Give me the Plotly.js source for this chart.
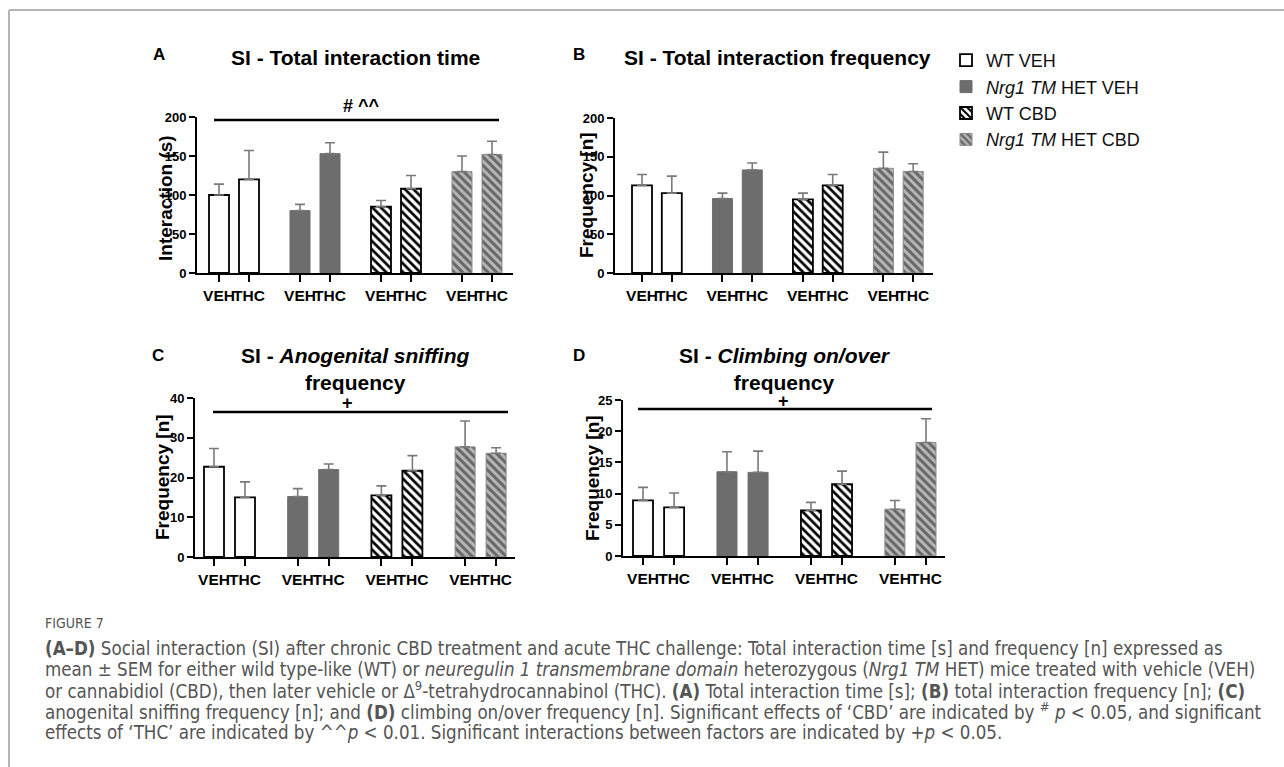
<!DOCTYPE html>
<html>
<head>
<meta charset="utf-8">
<script src="https://cdn.plot.ly/plotly-3.0.1.min.js"></script>
<style>
html,body{margin:0;padding:0;background:#fff;}
#chart{width:1284px;height:767px;}
</style>
</head>
<body>
<div id="chart"></div>
<script>
// ---------- data ----------
const groups = ["WT VEH", "<i>Nrg1 TM</i> HET VEH", "WT CBD", "<i>Nrg1 TM</i> HET CBD"];
const challenges = ["VEH", "THC"];

// Panel A: SI - total interaction time (s), order: [grp1 VEH, grp1 THC, grp2 VEH, ...]
const timeMean = [100, 120, 80, 153, 85, 108, 130, 152];
const timeSem  = [14, 37, 8, 14, 8, 17, 20, 17];
// Panel B: SI - total interaction frequency [n]
const freqMean = [113, 103, 96, 133, 95, 113, 135, 131];
const freqSem  = [14, 22, 7, 9, 8, 14, 21, 10];
// Panel C: anogenital sniffing frequency [n]
const sniffMean = [22.7, 15.0, 15.2, 22.0, 15.5, 21.7, 27.7, 26.1];
const sniffSem  = [4.6, 3.9, 2.0, 1.4, 2.4, 3.8, 6.5, 1.4];
// Panel D: climbing on/over frequency [n]
const climbMean = [8.9, 7.8, 13.5, 13.4, 7.3, 11.5, 7.5, 18.2];
const climbSem  = [2.1, 2.3, 3.2, 3.4, 1.3, 2.1, 1.4, 3.8];

const panelTitles = [
  "SI - Total interaction time",
  "SI - Total interaction frequency",
  "SI - <i>Anogenital sniffing</i><br>frequency",
  "SI - <i>Climbing on/over</i><br>frequency"
];
const panelLetters = ["A", "B", "C", "D"];
const yTitles = ["Interaction (s)", "Frequency [n]", "Frequency [n]", "Frequency [n]"];
const yMax = [200, 200, 40, 25];
const yStep = [50, 50, 10, 5];
const sigLabels = ["# ^^", "", "+", "+"];

// ---------- layout helpers ----------
const W = 1284, H = 767;
const px = x => x / W;
const py = y => 1 - y / H;
const GROUP_STEP = 2.7;

const FONT = "Liberation Sans, Arial, sans-serif";

const styles = [
  {color: "#ffffff", line: {color: "#000000", width: 1.8}},
  {color: "#6d6d6d", line: {color: "#6d6d6d", width: 1}},
  {color: "#ffffff", line: {color: "#000000", width: 1.8},
   pattern: {shape: "\\", fgcolor: "#000000", bgcolor: "#ffffff", size: 6, solidity: 0.45}},
  {color: "#b4b4b4", line: {color: "#8a8a8a", width: 1},
   pattern: {shape: "\\", fgcolor: "#666666", bgcolor: "#b8b8b8", size: 6, solidity: 0.5}}
];

// pixel geometry of each panel: [xLeft, xRight, yTop, yBottom, firstBarCenter, pxPerUnit]
const geom = [
  [197, 513, 117, 273, 219, 30.0],
  [615, 933, 118, 273, 642, 29.8],
  [195, 515, 398, 557, 214, 31.0],
  [623, 945, 400, 556, 643, 31.1]
];
const titlePos = [[355, 58], [777, 57], [355, 369], [785, 369]];
const letterPos = [[159, 55], [579, 55], [158, 355], [579, 355]];
const yTitlePos = [[165, 198], [586, 195], [162, 477], [592, 478]];
const sigLine = [[214, 499, 120], null, [213, 508, 412], [638, 932, 409]];
const sigText = [[362, 106], null, [347, 403], [783, 401]];

const panelData = [[timeMean, timeSem], [freqMean, freqSem], [sniffMean, sniffSem], [climbMean, climbSem]];

const traces = [];
const layout = {
  width: W, height: H,
  margin: {l: 0, r: 0, t: 0, b: 0},
  paper_bgcolor: "#ffffff", plot_bgcolor: "rgba(0,0,0,0)",
  font: {family: FONT, color: "#000"},
  barmode: "overlay",
  showlegend: true,
  legend: {
    x: px(946), y: py(42), xanchor: "left", yanchor: "top",
    font: {family: FONT, size: 18, color: "#111"},
    bgcolor: "rgba(0,0,0,0)", borderwidth: 0,
    tracegroupgap: 8, traceorder: "normal", itemclick: false
  },
  annotations: [],
  shapes: []
};

panelData.forEach((pd, p) => {
  const [means, sems] = pd;
  const [xl, xr, yt, yb, c0, ppu] = geom[p];
  const ax = p === 0 ? "" : String(p + 1);
  const xs = [], tickText = [];
  groups.forEach((g, gi) => {
    const x = challenges.map((c, ci) => gi * GROUP_STEP + ci);
    const y = challenges.map((c, ci) => means[gi * challenges.length + ci]);
    const e = challenges.map((c, ci) => sems[gi * challenges.length + ci]);
    x.forEach((v, i) => { xs.push(v); tickText.push(challenges[i]); });
    const st = styles[gi];
    const marker = {color: st.color, line: st.line};
    if (st.pattern) marker.pattern = st.pattern;
    traces.push({
      type: "bar", x: x, y: y, name: groups[gi],
      xaxis: "x" + ax, yaxis: "y" + ax,
      width: 20 / ppu,
      marker: marker,
      legendgroup: "g" + gi,
      showlegend: p === 0,
      error_y: {type: "data", symmetric: false, array: e, arrayminus: e.map(() => 0),
                color: "#7a7a7a", thickness: 1.6, width: 5},
      hoverinfo: "skip"
    });
  });
  layout["xaxis" + ax] = {
    domain: [px(xl), px(xr)],
    range: [(xl - c0) / ppu, (xr - c0) / ppu],
    anchor: "y" + ax,
    showline: true, linecolor: "#000", linewidth: 2,
    ticks: "outside", ticklen: 7, tickwidth: 2, tickcolor: "#000",
    tickmode: "array", tickvals: xs, ticktext: tickText, tickangle: 0,
    tickfont: {family: FONT, size: 15.5, color: "#000", weight: "bold"},
    showgrid: false, zeroline: false, fixedrange: true
  };
  layout["yaxis" + ax] = {
    domain: [py(yb), py(yt)],
    range: [0, yMax[p]],
    anchor: "x" + ax,
    showline: true, linecolor: "#000", linewidth: 2,
    ticks: "outside", ticklen: 6, tickwidth: 2, tickcolor: "#000",
    dtick: yStep[p], tick0: 0,
    tickfont: {family: FONT, size: 13, color: "#000", weight: "bold"},
    showgrid: false, zeroline: false, fixedrange: true
  };
  layout.annotations.push({
    xref: "paper", yref: "paper", x: px(titlePos[p][0]), y: py(titlePos[p][1]),
    xanchor: "center", yanchor: "middle", showarrow: false,
    text: "<b>" + panelTitles[p] + "</b>",
    font: {family: FONT, size: 21, color: "#000"}
  });
  layout.annotations.push({
    xref: "paper", yref: "paper", x: px(letterPos[p][0]), y: py(letterPos[p][1]),
    xanchor: "center", yanchor: "middle", showarrow: false,
    text: "<b>" + panelLetters[p] + "</b>",
    font: {family: FONT, size: 17, color: "#000"}
  });
  layout.annotations.push({
    xref: "paper", yref: "paper", x: px(yTitlePos[p][0]), y: py(yTitlePos[p][1]),
    xanchor: "center", yanchor: "middle", showarrow: false, textangle: -90,
    text: "<b>" + yTitles[p] + "</b>",
    font: {family: FONT, size: 19, color: "#000"}
  });
  if (sigLine[p]) {
    const [x0, x1, yy] = sigLine[p];
    layout.shapes.push({type: "line", xref: "paper", yref: "paper",
      x0: px(x0), x1: px(x1), y0: py(yy), y1: py(yy), line: {color: "#000", width: 2.5}});
    layout.annotations.push({
      xref: "paper", yref: "paper", x: px(sigText[p][0]), y: py(sigText[p][1]),
      xanchor: "center", yanchor: "middle", showarrow: false,
      text: "<b>" + sigLabels[p] + "</b>",
      font: {family: FONT, size: 18, color: "#000"}
    });
  }
});

// page border (gray rule at top and left)
layout.shapes.push({type: "line", xref: "paper", yref: "paper", x0: px(9), x1: px(9), y0: 0, y1: py(10),
  line: {color: "#b5b5b5", width: 2}});
layout.shapes.push({type: "line", xref: "paper", yref: "paper", x0: px(9), x1: 1, y0: py(10), y1: py(10),
  line: {color: "#b5b5b5", width: 2}});

// caption
const CAP_FONT = "DejaVu Sans Condensed, sans-serif";
const captionHead = "FIGURE 7";
const captionLines = [
  "<b>(A–D)</b> Social interaction (SI) after chronic CBD treatment and acute THC challenge: Total interaction time [s] and frequency [n] expressed as",
  "mean ± SEM for either wild type-like (WT) or <i>neuregulin 1 transmembrane domain</i> heterozygous (<i>Nrg1 TM</i> HET) mice treated with vehicle (VEH)",
  "or cannabidiol (CBD), then later vehicle or Δ<sup>9</sup>-tetrahydrocannabinol (THC). <b>(A)</b> Total interaction time [s]; <b>(B)</b> total interaction frequency [n]; <b>(C)</b>",
  "anogenital sniffing frequency [n]; and <b>(D)</b> climbing on/over frequency [n]. Significant effects of ‘CBD’ are indicated by <sup>#</sup> <i>p</i> &lt; 0.05, and significant",
  "effects of ‘THC’ are indicated by ^^<i>p</i> &lt; 0.01. Significant interactions between factors are indicated by +<i>p</i> &lt; 0.05."
];
layout.annotations.push({
  xref: "paper", yref: "paper", x: px(43), y: py(623), xanchor: "left", yanchor: "middle",
  showarrow: false, text: captionHead, font: {family: CAP_FONT, size: 14, color: "#555"}
});
captionLines.forEach((t, i) => {
  layout.annotations.push({
    xref: "paper", yref: "paper", x: px(43), y: py(648 + i * 21), xanchor: "left", yanchor: "middle",
    showarrow: false, text: t, font: {family: CAP_FONT, size: 18.6, color: "#555"}
  });
});

Plotly.newPlot("chart", traces, layout, {displayModeBar: false, staticPlot: true});
</script>
</body>
</html>
